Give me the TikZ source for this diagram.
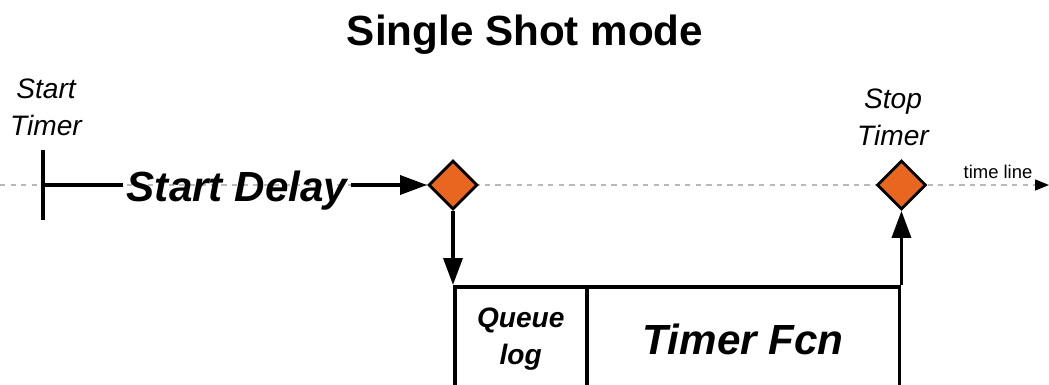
\documentclass[tikz,border=0pt]{standalone}
\usepackage{fontspec}
\setmainfont{Liberation Sans}
\usetikzlibrary{shapes.geometric,arrows.meta}
\definecolor{diamondorange}{RGB}{232,102,32}
\definecolor{timegrey}{RGB}{185,185,185}
\begin{document}
\begin{tikzpicture}[
    x=0.02cm, y=-0.02cm,
    event/.style={
        draw,
        diamond,
        fill=diamondorange,
        line width=1.6pt,
        inner sep=0pt,
        minimum size=0.98cm
    },
    slot/.style={
        draw,
        line width=2pt,
        inner sep=0pt,
        minimum height=2.1cm,
        align=center,
        font=\bfseries\itshape
    },
    label/.style={align=center, font=\fontsize{16}{21}\selectfont\itshape},
    arrow/.style={-{Triangle[length=0.54cm,width=0.38cm]}, line width=2pt},
    timeline/.style={timegrey, line width=0.8pt, dash pattern=on 3pt off 3pt,
        -{Triangle[length=0.28cm,width=0.22cm,black]}}
]
\useasboundingbox (0,0) rectangle (1049,385);
\clip (0,0) rectangle (1049,385);

% title
\node (title) at (525,35) {\fontsize{24}{28}\selectfont\bfseries Single Shot mode};

% time line
\coordinate (tl0) at (0,185);
\coordinate (tl1) at (1049,185);
\draw[timeline] (tl0) -- (tl1);
\node[font=\fontsize{10.5}{12}\selectfont] (tltext) at (998,172) {time line};

% start of timer
\coordinate (t0) at (43,185);
\coordinate (ttop) at (43,150);
\coordinate (tbot) at (43,220);
\draw[line width=1.8pt] (ttop) -- (tbot);
\node[label] (starttimer) at (46,107) {Start\\Timer};

\node[anchor=base, inner sep=2pt, font=\fontsize{24}{28}\selectfont\bfseries\itshape]
    (delay) at (237,202) {Start Delay};
\draw[line width=2pt] (t0) -- (t0 -| delay.west);

% callback slots
\node[slot, minimum width=2.64cm, anchor=north west, font=\fontsize{16}{21}\selectfont\bfseries\itshape]
    (queue) at (453,285) {Queue\\log};
\node[slot, minimum width=6.26cm, anchor=north west, font=\fontsize{24}{28}\selectfont\bfseries\itshape]
    (fcn) at (585,285) {Timer Fcn};

% events
\node[event] (d1) at (queue.north west |- t0) {};
\node[event] (d2) at (fcn.north east |- t0) {};
\node[label] (stoptimer) at (893,117) {Stop\\Timer};
\draw[arrow] (d1 -| delay.east) -- (d1.west);

\draw[arrow] (d1.south) -- (d1.south |- queue.north);
\draw[arrow] (fcn.north east) -- (d2.south);

\end{tikzpicture}
\end{document}
